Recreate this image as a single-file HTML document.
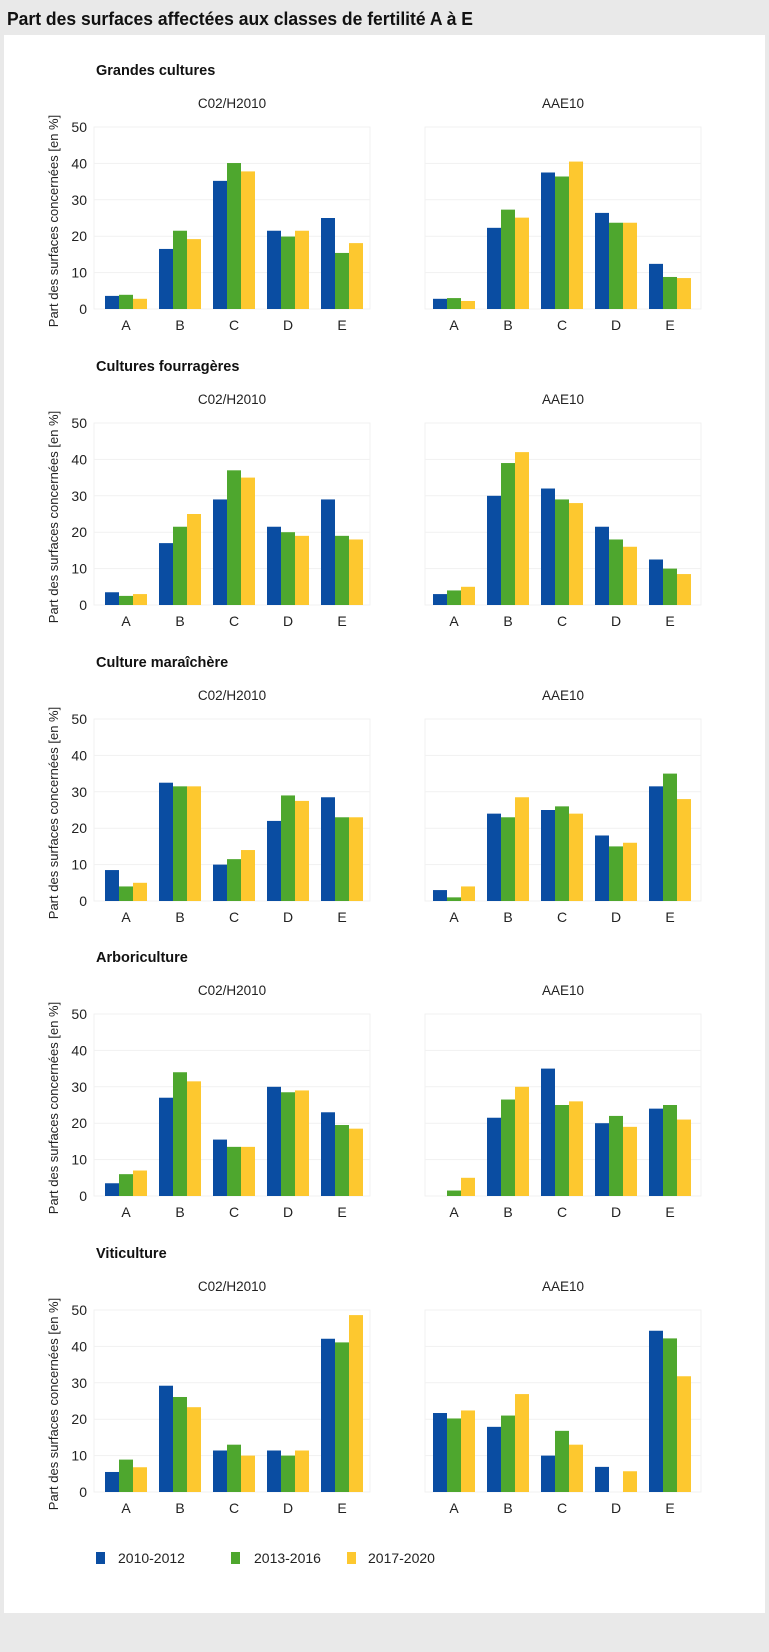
<!DOCTYPE html>
<html><head><meta charset="utf-8">
<style>
body{margin:0;background:#e9e9e9;}
svg{display:block;font-family:"Liberation Sans",sans-serif;}
</style></head>
<body>
<svg id="chart" width="769" height="1652" viewBox="0 0 769 1652">
<rect x="0" y="0" width="769" height="1652" fill="#e9e9e9"/>
<rect x="4" y="35" width="761" height="1578" fill="#ffffff"/>
<text x="7" y="25" font-size="18.5" font-weight="bold" fill="#111" textLength="466" lengthAdjust="spacingAndGlyphs">Part des surfaces affectées aux classes de fertilité A à E</text>
<g id="plots"></g>
<g>
<rect x="96" y="1552" width="9" height="12" fill="#0a4da2"/>
<text x="118" y="1563" font-size="14" fill="#222">2010-2012</text>
<rect x="231" y="1552" width="9" height="12" fill="#4ea72e"/>
<text x="254" y="1563" font-size="14" fill="#222">2013-2016</text>
<rect x="347" y="1552" width="9" height="12" fill="#fdc82f"/>
<text x="368" y="1563" font-size="14" fill="#222">2017-2020</text>
</g>
</svg>
<script>
const categories = ["A","B","C","D","E"];
const sections = ["Grandes cultures","Cultures fourragères","Culture maraîchère","Arboriculture","Viticulture"];
const scenarios = ["C02/H2010","AAE10"];
const yTicks = [0,10,20,30,40,50];
const seriesNames = ["2010-2012","2013-2016","2017-2020"];
const seriesColors = ["#0a4da2","#4ea72e","#fdc82f"];
const s1_left_2010 = [3.6,16.5,35.2,21.5,25.0];
const s1_left_2013 = [3.9,21.5,40.1,19.9,15.4];
const s1_left_2017 = [2.8,19.2,37.8,21.5,18.1];
const s1_right_2010 = [2.8,22.3,37.5,26.4,12.4];
const s1_right_2013 = [3.0,27.3,36.4,23.7,8.8];
const s1_right_2017 = [2.2,25.1,40.5,23.7,8.5];
const s2_left_2010 = [3.5,17,29,21.5,29];
const s2_left_2013 = [2.5,21.5,37,20,19];
const s2_left_2017 = [3,25,35,19,18];
const s2_right_2010 = [3,30,32,21.5,12.5];
const s2_right_2013 = [4,39,29,18,10];
const s2_right_2017 = [5,42,28,16,8.5];
const s3_left_2010 = [8.5,32.5,10,22,28.5];
const s3_left_2013 = [4,31.5,11.5,29,23];
const s3_left_2017 = [5,31.5,14,27.5,23];
const s3_right_2010 = [3,24,25,18,31.5];
const s3_right_2013 = [1,23,26,15,35];
const s3_right_2017 = [4,28.5,24,16,28];
const s4_left_2010 = [3.5,27,15.5,30,23];
const s4_left_2013 = [6,34,13.5,28.5,19.5];
const s4_left_2017 = [7,31.5,13.5,29,18.5];
const s4_right_2010 = [0,21.5,35,20,24];
const s4_right_2013 = [1.5,26.5,25,22,25];
const s4_right_2017 = [5,30,26,19,21];
const s5_left_2010 = [5.5,29.2,11.4,11.4,42.1];
const s5_left_2013 = [8.9,26.1,13,10,41.1];
const s5_left_2017 = [6.8,23.3,10,11.4,48.6];
const s5_right_2010 = [21.7,17.9,10,6.9,44.3];
const s5_right_2013 = [20.2,21,16.8,0,42.2];
const s5_right_2017 = [22.4,26.9,13,5.7,31.8];
const values = [
 [[s1_left_2010,s1_left_2013,s1_left_2017],[s1_right_2010,s1_right_2013,s1_right_2017]],
 [[s2_left_2010,s2_left_2013,s2_left_2017],[s2_right_2010,s2_right_2013,s2_right_2017]],
 [[s3_left_2010,s3_left_2013,s3_left_2017],[s3_right_2010,s3_right_2013,s3_right_2017]],
 [[s4_left_2010,s4_left_2013,s4_left_2017],[s4_right_2010,s4_right_2013,s4_right_2017]],
 [[s5_left_2010,s5_left_2013,s5_left_2017],[s5_right_2010,s5_right_2013,s5_right_2017]]
];

const NS = "http://www.w3.org/2000/svg";
const root = document.getElementById("plots");
const pxPer10 = 36.4;
const baselines = [309, 605, 901, 1196, 1492];
const panelLeft = [94, 425];
const firstCat = [126, 454];
const catStep = [54, 54];
const barW = 14;
function yScale(v, base){ return base - v * pxPer10 / 10; }
function xCat(i, p){ return firstCat[p] + i * catStep[p]; }
function mk(tag, attrs, parent){
  const e = document.createElementNS(NS, tag);
  for (const k in attrs) e.setAttribute(k, attrs[k]);
  parent.appendChild(e);
  return e;
}
sections.forEach((sec, si) => {
  const base = baselines[si];
  const g = mk("g", {}, root);
  
  
  const t = mk("text", {x:96, y:base-234, "font-size":14.5, "font-weight":"bold", fill:"#111"}, g);
  t.textContent = sec;
  
  
  const yt = mk("text", {x:0, y:0, "font-size":13, fill:"#222", "text-anchor":"middle",
    transform:"translate(58," + (base-88) + ") rotate(-90)"}, g);
  yt.textContent = "Part des surfaces concernées [en %]";
  
  
  yTicks.forEach(tv => {
    const lb = mk("text", {x:87, y:yScale(tv, base)+5, "font-size":14, fill:"#222", "text-anchor":"end"}, g);
    lb.textContent = tv;
    
    
  });
  scenarios.forEach((sc, p) => {
    const pg = mk("g", {}, g);
    
    
    const pl = panelLeft[p], pr = pl + 276;
    const fr = mk("rect", {x:pl, y:yScale(50, base), width:276, height:50*pxPer10/10, fill:"none", stroke:"#f1f1f1"}, pg);
    
    
    yTicks.forEach(tv => {
      if (tv === 0) return;
      const ln = mk("line", {x1:pl, x2:pr, y1:yScale(tv, base), y2:yScale(tv, base), stroke:"#f1f1f1"}, pg);
      
      
    });
    const st = mk("text", {x:(pl+pr)/2, y:base-201, "font-size":13.5, fill:"#222", "text-anchor":"middle"}, pg);
    st.textContent = sc;
    
    
    categories.forEach((c, ci) => {
      const cx = xCat(ci, p);
      const cl = mk("text", {x:cx, y:base+21, "font-size":14, fill:"#222", "text-anchor":"middle"}, pg);
      cl.textContent = c;
      
      
      seriesNames.forEach((sn, k) => {
        const v = values[si][p][k][ci];
        const y = yScale(v, base);
        const r = mk("rect", {x:cx - 1.5*barW + k*barW, y:y, width:barW, height:base - y, fill:seriesColors[k]}, pg);
        
        
      });
    });
  });
});
</script>
</body></html>
